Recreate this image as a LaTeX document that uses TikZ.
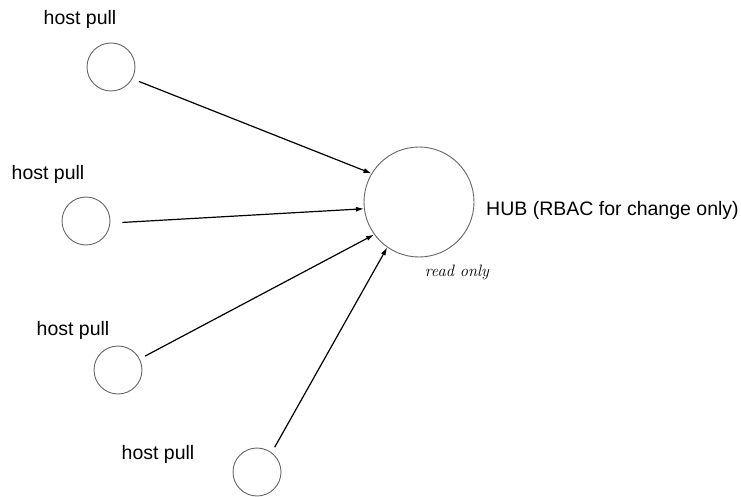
\documentclass[tikz,border=0pt]{standalone}
\usepackage{fontspec}
\newfontfamily\lsans{Liberation Sans}
\usetikzlibrary{arrows.meta}
\tikzset{
  host/.style={circle, draw=black!60, line width=0.9pt, minimum size=48pt, inner sep=0pt},
  hub/.style={circle, draw=black!60, line width=0.9pt, minimum size=110pt, inner sep=0pt},
  lbl/.style={anchor=base, inner sep=0pt, font=\lsans\fontsize{19.5}{23}\selectfont},
  ital/.style={anchor=base, inner sep=0pt, font=\itshape\fontsize{16.5}{20}\selectfont},
  conn/.style={line width=1.2pt, -{Latex[length=8pt,width=5pt]}}
}
\begin{document}
\begin{tikzpicture}[x=1pt,y=-1pt]
\useasboundingbox (0,0) rectangle (741,497);
\node[hub] (hub) at (419,202) {};
\node[host] (h1) at (111,67) {};
\node[host] (h2) at (86,221) {};
\node[host] (h3) at (118,370) {};
\node[host] (h4) at (257,472) {};
\node[lbl] (t1) at (80,25) {host pull};
\node[lbl] (t2) at (48,179) {host pull};
\node[lbl] (t3) at (73,335) {host pull};
\node[lbl] (t4) at (158,459) {host pull};
\node[lbl, anchor=base west] (thub) at (486,215) {HUB (RBAC for change only)};
\node[ital] (tro) at (457,276) {read only};
\draw[conn, shorten <=7pt] (h1.-29) -- (hub.149);
\draw[conn, shorten <=12pt] (h2.-5) -- (hub.-173);
\draw[conn, shorten <=6pt] (h3.27) -- (hub.216);
\draw[conn, shorten <=6pt] (h4.53) -- (hub.235);
\end{tikzpicture}
\end{document}
